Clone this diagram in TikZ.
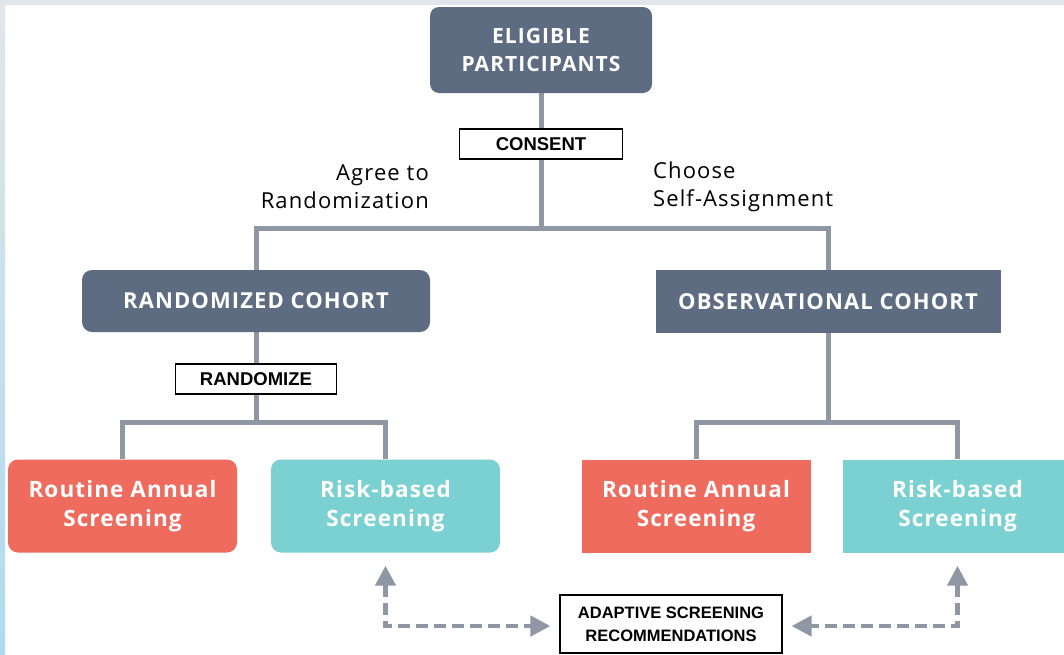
\documentclass[tikz,border=0pt]{standalone}
\usepackage{fontspec}
\setmainfont{Open Sans}
\newfontfamily\boxfont[LetterSpace=5]{Open Sans}
\newfontfamily\tagfont{Liberation Sans}
\usetikzlibrary{arrows.meta,backgrounds}

\definecolor{slate}{HTML}{5E6C81}
\definecolor{coral}{HTML}{EF6B5E}
\definecolor{aqua}{HTML}{7BD1D1}
\definecolor{wire}{HTML}{8F97A4}
\definecolor{framegray}{HTML}{E2E6EA}
\definecolor{frameblue}{HTML}{AEDAF0}

\tikzset{
  x=1pt, y=-1pt,
  darkbox/.style={fill=slate, text=white, font=\boxfont\bfseries\fontsize{21}{28}\selectfont,
    align=center, inner sep=0pt},
  colorbox/.style={text=white, font=\boxfont\bfseries\fontsize{22.5}{29}\selectfont,
    align=center, inner sep=0pt, minimum width=229pt, minimum height=93pt},
  tagbox/.style={draw=black, line width=1.2pt, fill=white, inner sep=0pt,
    font=\tagfont\bfseries\fontsize{18.5}{22}\selectfont, align=center},
  sidelabel/.style={font=\boxfont\fontsize{22}{28}\selectfont, inner sep=0pt},
  wireline/.style={draw=wire, line width=5pt},
  flow/.style={draw=wire, line width=4.5pt, dash pattern=on 12pt off 6pt,
    arrows={Triangle[length=20pt,width=20pt,fill=wire]-Triangle[length=20pt,width=20pt,fill=wire]}},
}

\begin{document}
\begin{tikzpicture}
  \useasboundingbox (0,0) rectangle (1064,654);
  \clip (0,0) rectangle (1064,654);

  % page frame
  \begin{scope}[on background layer]
    \fill[white] (0,0) rectangle (1064,654);
    \fill[framegray] (0,0) rectangle (1064,5);
    \shade[top color=framegray, bottom color=frameblue] (0,0) rectangle (5,654);
  \end{scope}

  % top level
  \node[darkbox, rounded corners=9pt, minimum width=222pt, minimum height=86pt]
    (elig) at (541,50) {ELIGIBLE\\PARTICIPANTS};
  \node[tagbox, minimum width=163pt, minimum height=30pt] (consent) at (541,144) {CONSENT};
  \node[sidelabel, anchor=east, align=right] (agree) at (429,187) {Agree to\\Randomization};
  \node[sidelabel, anchor=west, align=left] (choose) at (653,187) {Choose\\Self-Assignment};

  % cohorts
  \node[darkbox, font=\boxfont\bfseries\fontsize{22}{28}\selectfont, rounded corners=10pt,
    minimum width=348pt, minimum height=62pt] (rand) at (256,301) {RANDOMIZED COHORT};
  \node[darkbox, font=\boxfont\bfseries\fontsize{22}{28}\selectfont,
    minimum width=345pt, minimum height=63pt] (obs) at (828,301.5) {OBSERVATIONAL COHORT};
  \node[tagbox, minimum width=161pt, minimum height=30pt] (randomize) at (256,379) {RANDOMIZE};

  % screening arms
  \node[colorbox, fill=coral, rounded corners=10pt] (routineL) at (122.5,506) {Routine Annual\\Screening};
  \node[colorbox, fill=aqua, rounded corners=10pt] (riskL) at (385.5,506) {Risk-based\\Screening};
  \node[colorbox, fill=coral] (routineR) at (696,506) {Routine Annual\\Screening};
  \node[colorbox, fill=aqua] (riskR) at (957.5,506) {Risk-based\\Screening};

  \node[tagbox, font=\tagfont\bfseries\fontsize{16.5}{23}\selectfont,
    minimum width=222pt, minimum height=58pt] (adapt) at (671,624)
    {ADAPTIVE SCREENING\\RECOMMENDATIONS};

  % branch points
  \coordinate (split) at (541,228);
  \coordinate (splitL) at (256,422);
  \coordinate (splitR) at (828,422);
  \coordinate (cornerL) at (385.5,626);
  \coordinate (cornerR) at (957.5,626);

  \begin{scope}[on background layer]
    \draw[wireline] (elig.south) -- (split);
    \draw[wireline] (rand.north) |- (split) -| (obs.north);
    \draw[wireline] (rand.south) -- (splitL);
    \draw[wireline] (routineL.north) |- (splitL) -| (riskL.north);
    \draw[wireline] (obs.south) -- (splitR);
    \draw[wireline] (routineR.north) |- (splitR) -| (riskR.north);
  \end{scope}

  % feedback loops
  \draw[flow, shorten <=13pt, shorten >=9pt] (riskL.south) -- (cornerL) -- (adapt.west |- cornerL);
  \draw[flow, shorten <=13pt, shorten >=9pt] (riskR.south) -- (cornerR) -- (adapt.east |- cornerR);
\end{tikzpicture}
\end{document}
